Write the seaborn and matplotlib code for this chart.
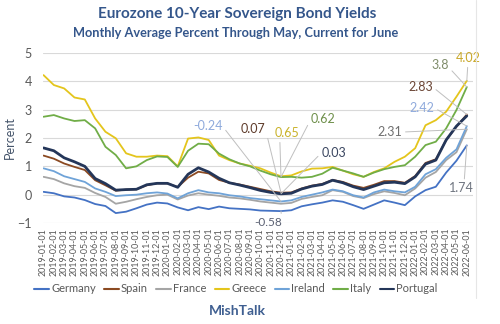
import matplotlib
matplotlib.use("Agg")
import matplotlib.pyplot as plt
import seaborn as sns
import pandas as pd
from matplotlib.lines import Line2D

# Month-start dates, Jan 2019 through Jun 2022
months = pd.date_range("2019-01-01", "2022-06-01", freq="MS").strftime("%Y-%m-%d").tolist()

germany = [0.10, 0.05, -0.06, -0.10, -0.19, -0.33, -0.40, -0.65, -0.60, -0.48, -0.35, -0.28,
           -0.31, -0.45, -0.55, -0.44, -0.51, -0.42, -0.48, -0.50, -0.52, -0.56, -0.57, -0.58,
           -0.55, -0.41, -0.34, -0.28, -0.20, -0.25, -0.37, -0.50, -0.35, -0.20, -0.28, -0.37,
           -0.06, 0.16, 0.28, 0.78, 1.20, 1.74]
spain = [1.38, 1.27, 1.10, 0.98, 0.87, 0.51, 0.33, 0.14, 0.18, 0.19, 0.33, 0.40,
         0.40, 0.27, 0.60, 0.81, 0.75, 0.52, 0.42, 0.36, 0.28, 0.20, 0.12, 0.07,
         0.08, 0.22, 0.32, 0.38, 0.52, 0.45, 0.32, 0.24, 0.35, 0.48, 0.48, 0.42,
         0.66, 1.12, 1.25, 1.93, 2.40, 2.83]
france = [0.63, 0.55, 0.40, 0.30, 0.24, 0.06, -0.08, -0.32, -0.25, -0.16, -0.08, -0.02,
          0.00, -0.17, -0.03, 0.05, 0.00, -0.04, -0.10, -0.13, -0.18, -0.24, -0.28, -0.32,
          -0.29, -0.15, -0.08, -0.02, 0.16, 0.10, -0.05, -0.12, 0.02, 0.12, 0.06, -0.02,
          0.22, 0.60, 0.80, 1.22, 1.50, 2.31]
greece = [4.22, 3.87, 3.75, 3.43, 3.36, 2.69, 2.22, 1.99, 1.46, 1.34, 1.34, 1.38,
          1.36, 1.00, 1.98, 2.02, 1.93, 1.38, 1.22, 1.10, 1.02, 0.93, 0.78, 0.65,
          0.68, 0.82, 0.92, 0.93, 0.98, 0.85, 0.72, 0.63, 0.80, 0.93, 1.16, 1.34,
          1.64, 2.45, 2.63, 2.93, 3.46, 4.02]
ireland = [0.93, 0.83, 0.65, 0.55, 0.45, 0.22, 0.10, -0.05, -0.02, 0.00, 0.05, 0.08,
           0.04, -0.13, 0.05, 0.16, 0.08, 0.05, -0.02, -0.06, -0.12, -0.16, -0.20, -0.24,
           -0.20, -0.08, 0.00, 0.08, 0.18, 0.12, -0.02, -0.10, 0.08, 0.18, 0.12, 0.08,
           0.28, 0.72, 0.90, 1.30, 1.60, 2.42]
italy = [2.75, 2.81, 2.69, 2.60, 2.63, 2.34, 1.69, 1.40, 0.93, 1.00, 1.22, 1.35,
         1.33, 0.98, 1.55, 1.80, 1.78, 1.45, 1.25, 1.10, 1.00, 0.85, 0.72, 0.62,
         0.63, 0.60, 0.63, 0.74, 0.95, 0.85, 0.75, 0.63, 0.78, 0.90, 0.98, 1.04,
         1.34, 1.75, 1.87, 2.34, 2.99, 3.80]
portugal = [1.65, 1.55, 1.30, 1.16, 1.00, 0.57, 0.39, 0.16, 0.18, 0.19, 0.35, 0.40,
            0.40, 0.26, 0.72, 0.95, 0.80, 0.58, 0.42, 0.34, 0.25, 0.15, 0.08, 0.03,
            0.05, 0.20, 0.30, 0.36, 0.51, 0.42, 0.28, 0.18, 0.30, 0.42, 0.44, 0.39,
            0.63, 1.08, 1.22, 1.93, 2.42, 2.78]

countries = ["Germany", "Spain", "France", "Greece", "Ireland", "Italy", "Portugal"]
series = [germany, spain, france, greece, ireland, italy, portugal]
colors = ["#4472C4", "#8B4A22", "#A5A5A5", "#E4C51C", "#6FA3D8", "#70AD47", "#243659"]
widths = [1.3, 1.3, 1.3, 1.3, 1.3, 1.3, 2.0]

rows = []
for name, vals in zip(countries, series):
    for i, v in enumerate(vals):
        rows.append({"idx": i, "month": months[i], "Country": name, "Yield": v})
df = pd.DataFrame(rows)

sns.set_theme(style="white")
plt.rcParams["font.family"] = ["Lato", "DejaVu Sans"]

fig = plt.figure(figsize=(5.0, 3.24), dpi=100)
ax = fig.add_axes([0.086, 0.3117, 0.86, 0.5247])

sns.lineplot(data=df, x="idx", y="Yield", hue="Country", hue_order=countries,
             palette=dict(zip(countries, colors)), ax=ax, legend=False)
for line, lw in zip(ax.get_lines(), widths):
    line.set_linewidth(lw)
    line.set_solid_joinstyle("round")

ax.set_xlim(-0.05, 41.6)
ax.set_ylim(-1, 5)
ax.set_yticks(range(-1, 6))
ax.set_xticks(range(len(months)))
ax.set_xticklabels(months, rotation=90, fontsize=6.4, color="#595959")
ax.tick_params(axis="y", labelsize=9, colors="#595959", length=0, pad=8)
ax.tick_params(axis="x", length=0, pad=3.5)
ax.grid(axis="y", color="#D9D9D9", lw=0.8)
for s in ax.spines.values():
    s.set_visible(False)
ax.set_xlabel("")
ax.set_ylabel("Percent", fontsize=9, color="#44546A", labelpad=5)
ax.yaxis.set_label_coords(-0.062, 0.5)

# Value labels with leader lines
labels = [
    ("-0.24", 15.9, 2.42, 23, -0.24, "#8FAADC", (1, 0.5)),
    ("0.07", 20.3, 2.31, 23, 0.07, "#5E3B2A", (1, 0.5)),
    ("0.65", 23.6, 2.17, 23, 0.65, "#C9B22A", (0.2, 0.2)),
    ("0.62", 27.1, 2.67, 23, 0.62, "#6E8F4A", (0, 0.5)),
    ("0.03", 28.1, 1.47, 23, 0.03, "#3A4660", (0, 0.5)),
    ("-0.58", 21.75, -0.97, 23, -0.58, "#5A6072", (1, 0.5)),
    ("3.8", 38.4, 4.58, 41, 3.8, "#7F8C6A", (1, 0.3)),
    ("4.02", 41.1, 4.82, 41, 4.02, "#C9A82A", (0.5, 0)),
    ("2.83", 36.5, 3.80, 41, 2.83, "#6B4535", (1, 0.5)),
    ("2.42", 36.65, 3.06, 41, 2.42, "#8FAADC", (1, 0.5)),
    ("2.31", 33.55, 2.21, 41, 2.31, "#6F6F6F", (1, 0.5)),
    ("1.74", 40.5, 0.23, 41, 1.74, "#6F7580", (0.6, 1)),
]
for txt, tx, ty, px, py, col, rp in labels:
    ax.annotate(txt, xy=(px, py), xytext=(tx, ty), ha="center", va="center",
                fontsize=9 if txt != "-0.58" else 8.5, color=col, annotation_clip=False,
                arrowprops=dict(arrowstyle="-", color="#BFBFBF", lw=0.7,
                                shrinkA=0, shrinkB=0, relpos=rp))

fig.text(0.474, 1 - 14 / 324, "Eurozone 10-Year Sovereign Bond Yields", ha="center",
         va="center", fontsize=11, fontweight="bold", color="#34568B")
fig.text(0.472, 1 - 33 / 324, "Monthly Average Percent Through May, Current for June",
         ha="center", va="center", fontsize=9.2, fontweight="bold", color="#34568B")

handles = [Line2D([0], [0], color=c, lw=1.5) for c in colors]
fig.legend(handles, countries, loc="center", bbox_to_anchor=(0.472, 1 - 289 / 324),
           ncol=7, frameon=False, fontsize=8, handlelength=1.3, handletextpad=0.2,
           columnspacing=0.75, labelcolor="#595959")

fig.text(0.474, 1 - 311 / 324, "MishTalk", ha="center", va="center", fontsize=10,
         fontweight="bold", color="#3F5F91")

fig.add_artist(Line2D([0.951, 0.951], [0.08, 1.0], color="#E6E6E6", lw=0.8))

fig.savefig("out.png", dpi=100, facecolor="white")
